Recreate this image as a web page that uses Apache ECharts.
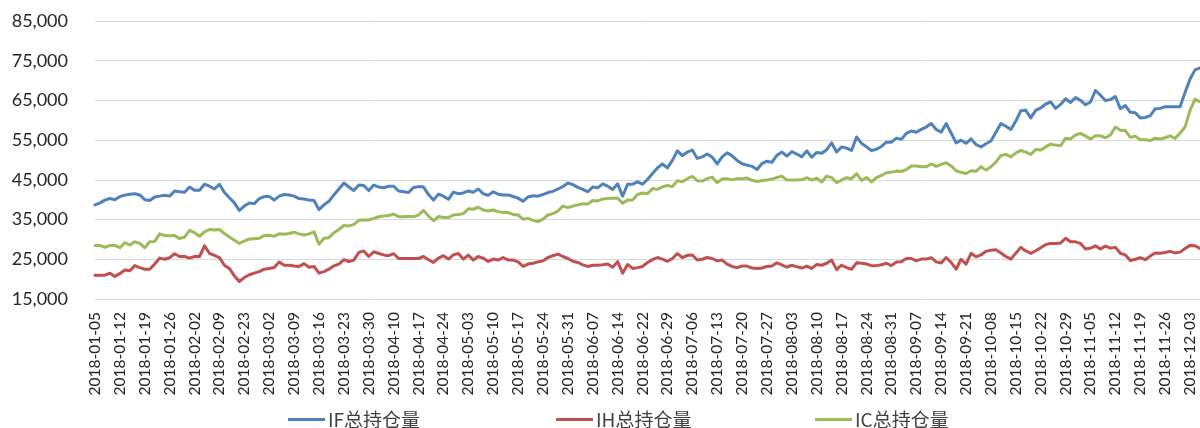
<!DOCTYPE html>
<html>
<head>
<meta charset="utf-8">
<script src="https://cdn.jsdelivr.net/npm/echarts@6/dist/echarts.min.js"></script>
<style>
  html, body { margin: 0; padding: 0; background: #ffffff; }
  #chart { width: 1200px; height: 428px; }
</style>
</head>
<body>
<div id="chart"></div>
<script>
// Trading-day calendar for 2018 (weekdays minus exchange holidays)
const firstDay = '2018-01-05';
const lastDay = '2018-12-05';
const holidays = [
  '2018-02-15', '2018-02-16', '2018-02-19', '2018-02-20', '2018-02-21',
  '2018-04-05', '2018-04-06', '2018-04-30', '2018-05-01', '2018-06-18',
  '2018-09-24', '2018-10-01', '2018-10-02', '2018-10-03', '2018-10-04', '2018-10-05'
];

function tradingDays(from, to, skip) {
  const out = [];
  const end = Date.parse(to + 'T00:00:00Z');
  for (let t = Date.parse(from + 'T00:00:00Z'); t <= end; t += 86400000) {
    const d = new Date(t);
    const wd = d.getUTCDay();
    const s = d.toISOString().slice(0, 10);
    if (wd !== 0 && wd !== 6 && skip.indexOf(s) < 0) out.push(s);
  }
  return out;
}
const dates = tradingDays(firstDay, lastDay, holidays);

// Total open interest per contract family
const seriesNames = ['IF总持仓量', 'IH总持仓量', 'IC总持仓量'];

const ifHold = [
  38700,39200,39900,40300,40000,40800,41150,41400,41500,41200,
  40000,39800,40700,40900,41100,40900,42200,42000,41900,43200,
  42400,42400,43900,43400,42700,43900,41800,40500,39200,37300,
  38400,39200,39000,40300,40800,40800,39900,40900,41300,41200,
  40900,40300,40200,39900,39800,37500,38700,39600,41200,42700,
  44200,43200,42300,43700,43600,42300,43700,43200,43000,43400,
  43400,42200,42000,41800,43100,43300,43200,41300,39900,41400,
  40900,40100,41900,41500,41700,42200,41900,42700,41500,41100,
  42000,41400,41200,41200,40800,40400,39600,40700,41000,40900,
  41300,41800,42100,42700,43300,44200,43800,43100,42600,42000,
  43200,43000,44000,43400,42600,44000,40900,43900,43900,44500,
  43900,45100,46600,48000,49000,48000,49900,52300,51100,52000,
  52500,50400,50800,51500,50700,49000,50800,51800,51050,49900,
  49050,48700,48400,47600,49100,49700,49400,51200,52000,51000,
  52100,51500,50800,52300,50700,51900,51700,52600,54300,52000,
  53300,53000,52400,55800,54200,53300,52400,52700,53400,54500,
  54500,55500,55200,56700,57300,57000,57700,58300,59200,57700,
  57000,59200,56800,54300,55000,54200,55300,53900,53300,54100,
  54800,57000,59200,58500,57700,59800,62400,62500,60600,62500,
  63100,64100,64600,63000,64000,65400,64500,65700,65000,63900,
  64600,67500,66300,65000,65200,66000,62900,63700,62000,61900,
  60600,60700,61200,62900,63000,63400,63400,63400,63400,67000,
  70400,72700,73200
];

const ihHold = [
  21000,21000,21000,21500,20700,21400,22300,22100,23400,22900,
  22500,22500,23800,25300,25000,25400,26400,25700,25700,25300,
  25700,25700,28400,26500,26000,25400,23500,22700,20800,19400,
  20400,21100,21500,21900,22500,22700,22950,24300,23500,23500,
  23300,23200,23900,23000,23200,21500,21900,22500,23350,23800,
  24900,24450,24800,26700,27100,25700,26900,26450,26100,25900,
  26400,25200,25200,25200,25200,25200,25700,24900,24200,25300,
  25900,25050,26100,26450,25050,26050,24800,25700,25300,24450,
  25050,24800,25450,24800,24800,24350,23200,23800,24000,24350,
  24600,25450,25900,26300,25700,25200,24500,24200,23600,23200,
  23500,23500,23600,23800,23000,24400,21500,23700,22700,22900,
  23200,24200,24900,25450,25050,24500,25200,26450,25400,26000,
  26100,24800,25000,25450,25200,24600,24800,23800,23200,22900,
  23300,23300,22800,22700,22800,23200,23300,24100,23600,23000,
  23500,23100,22800,23300,22700,23700,23500,24000,24800,22400,
  23500,22900,22500,24100,24000,23800,23400,23400,23600,24000,
  23400,24300,24400,25200,25200,24600,25050,25050,25400,24350,
  24050,25450,24200,22500,25000,23800,26500,25600,26100,27000,
  27300,27400,26600,25700,25050,26550,28000,27100,26500,27150,
  27900,28700,29000,29000,29100,30300,29400,29400,29000,27600,
  27800,28400,27600,28300,27800,28000,26500,26100,24700,25000,
  25400,24900,25800,26600,26500,26700,27000,26600,26800,27700,
  28500,28400,27700
];

const icHold = [
  28500,28500,28000,28500,28500,27900,29200,28600,29400,29000,
  27900,29400,29500,31400,31000,30900,31000,30200,30600,32300,
  31700,30800,31900,32500,32400,32500,31500,30600,29800,29000,
  29600,30100,30200,30300,31000,31050,30800,31400,31300,31500,
  31800,31400,31100,31400,31900,28800,30300,30450,31700,32500,
  33500,33400,33800,34800,34900,34900,35300,35700,35900,36000,
  36400,35700,35700,35750,35750,36150,37300,35900,34700,35750,
  35500,35500,36150,36300,36500,37700,37600,38100,37400,37150,
  37400,37000,36800,36750,36300,36150,35100,35300,34800,34500,
  35100,36150,36500,37150,38400,38000,38400,38700,39000,38900,
  39800,39700,40200,40300,40400,40400,39100,39900,39900,41300,
  41700,41500,42800,42600,43200,43600,43300,44800,44500,45300,
  45900,44800,44700,45300,45700,44300,45200,45300,45000,45300,
  45300,45450,44900,44600,44850,44950,45200,45600,45950,44950,
  44950,44950,45000,45550,44950,45400,44450,45950,45550,44300,
  44950,45550,45300,46550,44850,45600,44500,45550,46100,46800,
  46950,47200,47100,47600,48500,48500,48300,48300,49000,48400,
  48900,49300,48500,47300,46900,46600,47300,47150,48300,47450,
  48300,49450,51150,51400,50800,51800,52400,52000,51400,52650,
  52500,53300,54000,53750,53600,55500,55300,56300,56700,56000,
  55300,56100,56100,55600,56300,58300,57500,57400,55700,56000,
  55100,55100,54900,55500,55300,55600,56100,55400,56800,58300,
  62500,65300,64700
];

// Value axis range and step
const yMin = 15000;
const yMax = 85000;
const yStep = 10000;

const colors = ['#4F81BD', '#C0504D', '#9BBB59'];
const values = [ifHold, ihHold, icHold];
const legendLeft = [283, 551, 810];

const chart = echarts.init(document.getElementById('chart'), null, { renderer: 'canvas' });

chart.setOption({
  animation: false,
  backgroundColor: '#ffffff',
  color: colors,
  grid: { left: 95, right: 0, top: 21, bottom: 129, containLabel: false },
  legend: seriesNames.map((name, i) => ({
    data: [name],
    left: legendLeft[i],
    top: 405,
    icon: 'rect',
    itemWidth: 37,
    itemHeight: 3,
    textStyle: { fontFamily: '"Noto Sans CJK SC", "Noto Sans", sans-serif', fontSize: 19, color: '#404040', padding: [0, 0, 0, -2] }
  })),
  xAxis: {
    type: 'category',
    data: dates,
    boundaryGap: false,
    axisLine: { show: false },
    axisTick: { show: false },
    splitLine: { show: false },
    axisLabel: {
      interval: 4,
      rotate: 90,
      margin: 13,
      fontFamily: 'Lato, "Liberation Sans", sans-serif',
      fontSize: 15.5,
      color: '#262626'
    }
  },
  yAxis: {
    type: 'value',
    min: yMin,
    max: yMax,
    interval: yStep,
    axisLine: { show: false },
    axisTick: { show: false },
    splitLine: { lineStyle: { color: '#D9D9D9', width: 1 } },
    axisLabel: {
      margin: 27,
      fontFamily: 'Lato, "Liberation Sans", sans-serif',
      fontSize: 18,
      color: '#262626',
      formatter: v => v.toLocaleString('en-US')
    }
  },
  series: seriesNames.map((name, i) => ({
    name: name,
    type: 'line',
    data: values[i],
    symbol: 'none',
    smooth: false,
    lineStyle: { width: 3, color: colors[i], join: 'round', cap: 'round' },
    itemStyle: { color: colors[i] }
  }))
});
</script>
</body>
</html>
